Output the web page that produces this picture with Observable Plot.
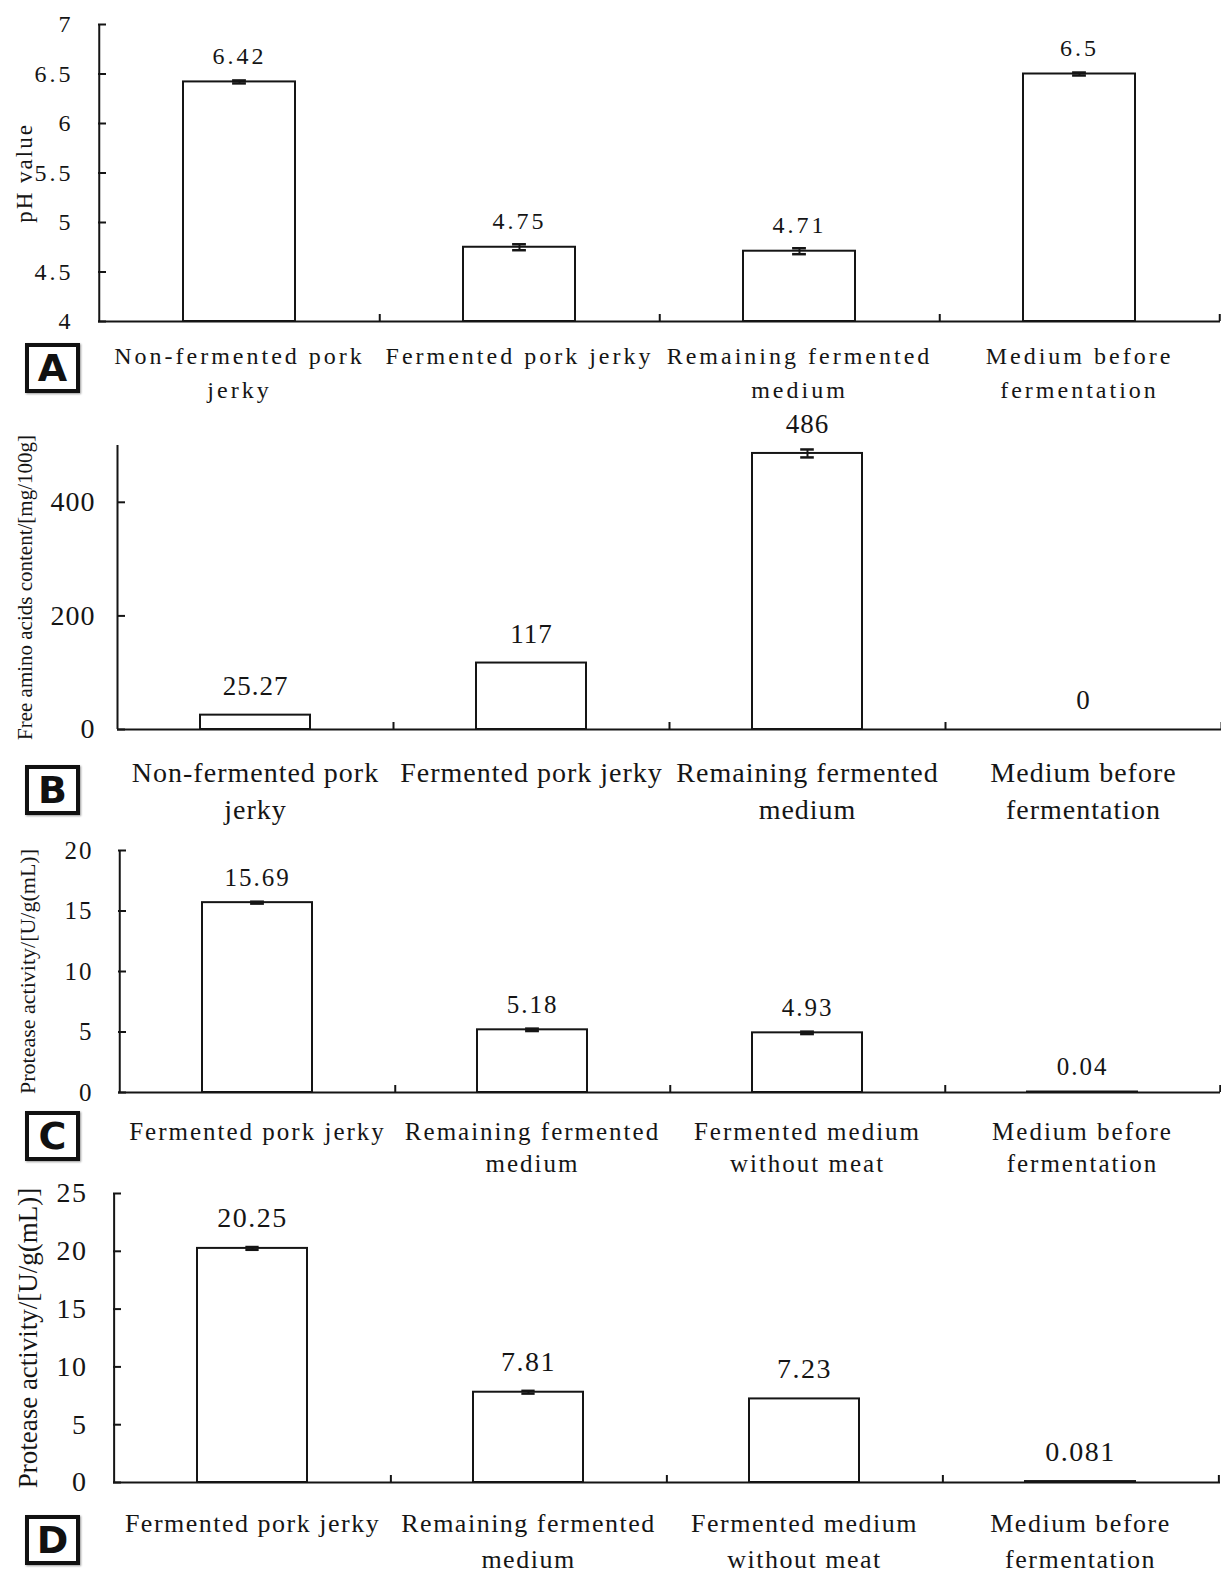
<!DOCTYPE html>
<html><head><meta charset="utf-8">
<script src="https://cdn.jsdelivr.net/npm/d3@7"></script>
<script src="https://cdn.jsdelivr.net/npm/@observablehq/plot@0.6"></script>
<style>
body{margin:0;background:#fff;}
#wrap{position:relative;width:1221px;height:1578px;overflow:hidden;background:#fff;}
.panel{position:absolute;left:0;}
.tag{position:absolute;left:25px;width:47px;height:42px;border:4px solid #111;font-family:"DejaVu Sans",sans-serif;font-weight:bold;font-size:38px;line-height:43px;text-align:center;color:#111;background:#fff;box-shadow:1px 1px 2px #999;}
</style></head>
<body><div id="wrap"></div>
<script>
// ---- data ----
const catsAB = ["Non-fermented pork jerky", "Fermented pork jerky", "Remaining fermented medium", "Medium before fermentation"];
const catsCD = ["Fermented pork jerky", "Remaining fermented medium", "Fermented medium without meat", "Medium before fermentation"];
const labelsAB = ["Non-fermented pork\njerky", "Fermented pork jerky", "Remaining fermented\nmedium", "Medium before\nfermentation"];
const labelsCD = ["Fermented pork jerky", "Remaining fermented\nmedium", "Fermented medium\nwithout meat", "Medium before\nfermentation"];

const phValues = [6.42, 4.75, 4.71, 6.5];
const phErrors = [0.015, 0.03, 0.03, 0.015];
const phTicks = [4, 4.5, 5, 5.5, 6, 6.5, 7];

const faaValues = [25.27, 117, 486, 0];
const faaErrors = [0, 0, 7, 0];
const faaTicks = [0, 200, 400];

const protCValues = [15.69, 5.18, 4.93, 0.04];
const protCErrors = [0.08, 0.1, 0.1, 0];
const protCTicks = [0, 5, 10, 15, 20];

const protDValues = [20.25, 7.81, 7.23, 0.081];
const protDErrors = [0.12, 0.12, 0, 0];
const protDTicks = [0, 5, 10, 15, 20, 25];

const yLabelA = "pH value";
const yLabelB = "Free amino acids content/[mg/100g]";
const yLabelC = "Protease activity/[U/g(mL)]";
const yLabelD = "Protease activity/[U/g(mL)]";

// ---- layout ----
const W = 1221;
const ink = "#151515";
const wrap = document.getElementById("wrap");

function panel(cfg) {
  const plotW = W - cfg.ml - cfg.mr;
  const step = plotW / 4;
  const bw = step * 0.4;
  const plotH = cfg.h - cfg.mt - cfg.mb;
  const base = cfg.domain[0];
  const tickVal = (cfg.domain[1] - cfg.domain[0]) * 7 / plotH;
  const data = cfg.cats.map((c, i) => ({cat: c, v: cfg.values[i], e: cfg.errors[i], label: String(cfg.values[i])}));
  const err = data.filter(d => d.e > 0);
  const capHalf = 7;
  const chart = Plot.plot({
    width: W, height: cfg.h,
    marginTop: cfg.mt, marginBottom: cfg.mb, marginLeft: cfg.ml, marginRight: cfg.mr,
    style: {fontFamily: "'Liberation Serif', 'Times New Roman', serif", letterSpacing: cfg.ls + "px", overflow: "visible", background: "transparent", color: ink},
    x: {type: "band", domain: cfg.cats, paddingInner: 0.6, paddingOuter: 0.3},
    y: {domain: cfg.domain},
    marks: [
      Plot.barY(data, {x: "cat", y1: base, y2: "v", fill: "white", stroke: ink, strokeWidth: 2}),
      Plot.ruleX(err, {x: "cat", y1: d => d.v - d.e, y2: d => d.v + d.e, stroke: ink, strokeWidth: 2}),
      Plot.tickY(err, {x: "cat", y: d => d.v + d.e, insetLeft: bw / 2 - capHalf, insetRight: bw / 2 - capHalf, stroke: ink, strokeWidth: 2.5}),
      Plot.tickY(err, {x: "cat", y: d => d.v - d.e, insetLeft: bw / 2 - capHalf, insetRight: bw / 2 - capHalf, stroke: ink, strokeWidth: 2.5}),
      Plot.ruleY([base], {stroke: ink, strokeWidth: 2}),
      Plot.ruleX([cfg.cats[0]], {x: d => d, dx: -step / 2, stroke: ink, strokeWidth: 2}),
      Plot.ruleX(cfg.cats, {x: d => d, dx: step / 2, y1: base, y2: base + tickVal, stroke: ink, strokeWidth: 2}),
      Plot.axisY({ticks: cfg.ticks, tickSize: -8, tickPadding: cfg.tp + 8, tickFormat: d => String(d), fontSize: cfg.tickFs, label: null, stroke: ink, strokeWidth: 2}),
      Plot.axisX({tickSize: 0, tickPadding: cfg.xp, tickFormat: d => cfg.labels[cfg.cats.indexOf(d)], fontSize: cfg.xFs, lineHeight: cfg.lh, label: null}),
      Plot.text(data, {x: "cat", y: "v", text: "label", dy: -cfg.vdy, fontSize: cfg.valFs, fill: ink}),
      Plot.text([cfg.ylabel], {text: d => d, frameAnchor: "left", textAnchor: "middle", lineAnchor: "middle", rotate: -90, dx: -(cfg.ml - cfg.ylx), fontSize: cfg.yFs, fill: ink})
    ]
  });
  chart.classList.add("panel");
  chart.style.top = cfg.top + "px";
  chart.style.position = "absolute";
  // y-axis title is the last text mark: give it its own letter spacing
  const textGroups = chart.querySelectorAll('g[aria-label="text"]');
  if (textGroups.length) {
    const g = textGroups[textGroups.length - 1];
    g.style.letterSpacing = cfg.yls + "px";
    g.querySelectorAll("text").forEach(t => t.style.letterSpacing = cfg.yls + "px");
  }
  wrap.appendChild(chart);
  const tag = document.createElement("div");
  tag.className = "tag";
  tag.style.top = cfg.tagTop + "px";
  tag.textContent = cfg.tag;
  wrap.appendChild(tag);
}

panel({tag: "A", tagTop: 343, top: 0, h: 410, mt: 24, mb: 89, ml: 98, mr: 1, domain: [4, 7],
  cats: catsAB, labels: labelsAB, values: phValues, errors: phErrors, ticks: phTicks, ylabel: yLabelA,
  tickFs: 24, tp: 25, xFs: 24, xp: 19, lh: 1.4, valFs: 24, vdy: 26, yFs: 23, ylx: 24, ls: 3, yls: 2});

panel({tag: "B", tagTop: 765, top: 410, h: 430, mt: 35, mb: 111, ml: 117, mr: 0, domain: [0, 500],
  cats: catsAB, labels: labelsAB, values: faaValues, errors: faaErrors, ticks: faaTicks, ylabel: yLabelB,
  tickFs: 28, tp: 22, xFs: 28, xp: 26, lh: 1.32, valFs: 27, vdy: 29, yFs: 21, ylx: 25, ls: 1, yls: 0});

panel({tag: "C", tagTop: 1111, top: 840, h: 335, mt: 10, mb: 83, ml: 118, mr: 1, domain: [0, 20],
  cats: catsCD, labels: labelsCD, values: protCValues, errors: protCErrors, ticks: protCTicks, ylabel: yLabelC,
  tickFs: 25, tp: 25, xFs: 25, xp: 24, lh: 1.3, valFs: 25, vdy: 25, yFs: 22, ylx: 27, ls: 2, yls: 0});

panel({tag: "D", tagTop: 1515, top: 1175, h: 403, mt: 18, mb: 96, ml: 113, mr: 1, domain: [0, 25],
  cats: catsCD, labels: labelsCD, values: protDValues, errors: protDErrors, ticks: protDTicks, ylabel: yLabelD,
  tickFs: 28, tp: 26, xFs: 26, xp: 24, lh: 1.38, valFs: 28, vdy: 30, yFs: 27, ylx: 28, ls: 1.5, yls: 0});
</script>
</body></html>
